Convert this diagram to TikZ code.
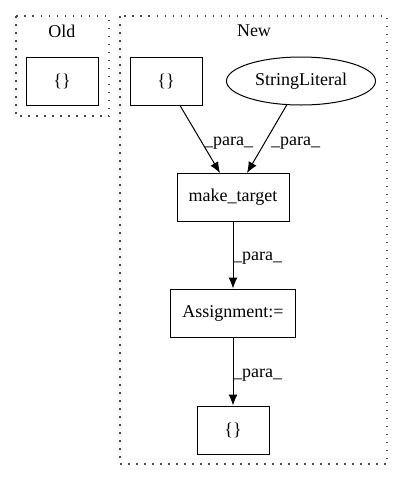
\documentclass[tikz,border=0pt]{standalone}
\usepackage{fontspec}
\setmainfont{Liberation Serif}
\usepackage{tikz}
\usetikzlibrary{shapes.geometric, arrows.meta}

\begin{document}
\begin{tikzpicture}[x=1pt, y=-1pt, font=\fontsize{18}{20}\selectfont,
  box/.style={draw, line width=1pt, minimum width=72pt, minimum height=48pt, inner sep=0pt},
  edge/.style={-{Latex[length=11pt, width=9pt]}, line width=1pt},
  cluster/.style={line width=1.2pt, dash pattern=on 1.5pt off 6.5pt, gray!60!black},
  lbl/.style={inner sep=1pt, anchor=west}]
\useasboundingbox (0, 0) rectangle (403, 480);
\draw[cluster] (16, 16) rectangle (109, 116);
\draw[cluster] (120, 16) rectangle (387, 464);
\node (oldtitle) at (62, 31) {Old};
\node (newtitle) at (254, 31) {New};
\node[box] (oldset) at (62, 81) {\{\}};
\node[box] (newset) at (166, 81) {\{\}};
\node[draw, line width=1pt, ellipse, minimum width=149pt, minimum height=48pt, inner sep=0pt] (strlit) at (301, 81) {StringLiteral};
\node[box, minimum width=112pt] (target) at (233, 197) {make\_target};
\node[box, minimum width=125pt] (assign) at (233, 313) {Assignment:=};
\node[box] (result) at (233, 430) {\{\}};
\coordinate (in1) at (220, 173);
\coordinate (in2) at (247, 173);
\draw[edge] (newset.south -| 180, 0) -- (in1);
\draw[edge] (strlit.south -| 287, 0) ++(0, -1) -- (in2);
\draw[edge] (target) -- (assign);
\draw[edge] (assign) -- (result);
\node[lbl] at (203, 143) {\_para\_};
\node[lbl] at (270, 143) {\_para\_};
\node[lbl] at (232, 258) {\_para\_};
\node[lbl] at (232, 375) {\_para\_};
\end{tikzpicture}
\end{document}
